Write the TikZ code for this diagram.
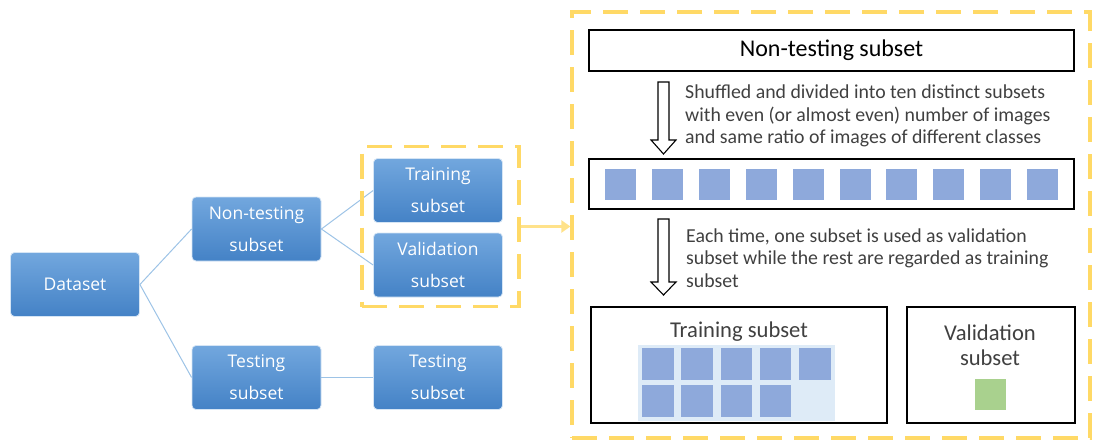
\documentclass[tikz,border=0pt]{standalone}
\usepackage{fontspec}
\setmainfont{Carlito}
\newfontfamily\boxfont{Open Sans}
\usetikzlibrary{arrows.meta}
\definecolor{ygold}{HTML}{FFD966}
\definecolor{yarrow}{HTML}{FFE28A}
\definecolor{btop}{HTML}{72A7DE}
\definecolor{bbot}{HTML}{4482C6}
\definecolor{conn}{HTML}{9DC3E6}
\definecolor{sqblue}{HTML}{8EA9DB}
\definecolor{sqbg}{HTML}{DEEBF7}
\definecolor{sqgreen}{HTML}{A9D18E}
\definecolor{txtgray}{HTML}{404040}
\tikzset{
  bluebox/.style={rounded corners=4pt, draw=white!70!btop, line width=0.8pt,
    top color=btop, bottom color=bbot, minimum width=129pt, minimum height=64pt,
    inner sep=0pt, align=center, text=white, font=\boxfont\fontsize{17.5}{32}\selectfont},
  link/.style={draw=conn, line width=1pt},
  ydash/.style={draw=ygold, line width=3.2pt, dash pattern=on 25pt off 12pt},
  plainbox/.style={draw=black, line width=1.2pt, inner sep=0pt},
  desc/.style={inner sep=0pt, anchor=west, align=left, text=txtgray,
    font=\fontsize{19.8}{22.8}\selectfont},
  hollow/.style={draw=black, line width=1.1pt, fill=white},
}
\begin{document}
\begin{tikzpicture}[x=1pt,y=-1pt]
\useasboundingbox (0,0) rectangle (1097,439);

% ---------- left tree ----------
\node[bluebox] (data) at (75,284.5) {Dataset};
\node[bluebox] (nont) at (256.5,229) {Non-testing\\subset};
\node[bluebox] (test1) at (256.5,377.5) {Testing\\subset};
\node[bluebox] (train) at (438,190.5) {Training\\subset};
\node[bluebox] (valid) at (438,265) {Validation\\subset};
\node[bluebox] (test2) at (438,377.5) {Testing\\subset};

\draw[link] (data.east) -- (nont.west);
\draw[link] (data.east) -- (test1.west);
\draw[link] (nont.east) -- (train.west);
\draw[link] (nont.east) -- (valid.west);
\draw[link] (test1.east) -- (test2.west);

\node[ydash, minimum width=157pt, minimum height=160pt, inner sep=0pt] (sb) at (440.5,226.5) {};
\node[ydash, minimum width=518pt, minimum height=426pt, inner sep=0pt] (bb) at (831,225) {};
\draw[yarrow, line width=3pt, -{Triangle[length=9pt,width=12pt]}] (sb.east) -- (sb.east -| bb.west);

% ---------- right panel ----------
\node[plainbox, minimum width=485pt, minimum height=41pt, font=\fontsize{24}{28}\selectfont] (head) at (831.5,50.5) {Non-testing subset};

\draw[hollow] (658,82) -- (669,82) -- (669,140) -- (676,140) -- (663.5,154) -- (651,140) -- (658,140) -- cycle;
\node[desc] (d1) at (685,116) {Shuffled and divided into ten distinct subsets\\with even (or almost even) number of images\\and same ratio of images of different classes};

\node[plainbox, minimum width=485pt, minimum height=50pt] (strip) at (831.5,184) {};
\foreach \i in {0,...,9} {
  \fill[sqblue] ({605+46.9*\i},169) rectangle ++(31,31);
}

\draw[hollow] (658,219) -- (669,219) -- (669,282) -- (676,282) -- (663.5,295) -- (651,282) -- (658,282) -- cycle;
\node[desc] (d2) at (686,258) {Each time, one subset is used as validation\\subset while the rest are regarded as training\\subset};

\node[plainbox, minimum width=296pt, minimum height=116pt] (trbox) at (739,365) {};
\node[font=\fontsize{22.6}{26}\selectfont, text=txtgray, inner sep=0pt] (trlab) at (739,332) {Training subset};
\fill[sqbg] (638,345) rectangle (835,421);
\foreach \i in {0,...,4} {
  \fill[sqblue] ({642+39.3*\i},348) rectangle ++(31.5,32);
}
\foreach \i in {0,...,3} {
  \fill[sqblue] ({642+39.3*\i},385) rectangle ++(31.5,32);
}

\node[plainbox, minimum width=168pt, minimum height=116pt] (vabox) at (991,365) {};
\node[font=\fontsize{22.6}{25.5}\selectfont, text=txtgray, inner sep=0pt, align=center] (valab) at (990,345) {Validation\\subset};
\fill[sqgreen] (975,379) rectangle (1006,410);
\end{tikzpicture}
\end{document}
